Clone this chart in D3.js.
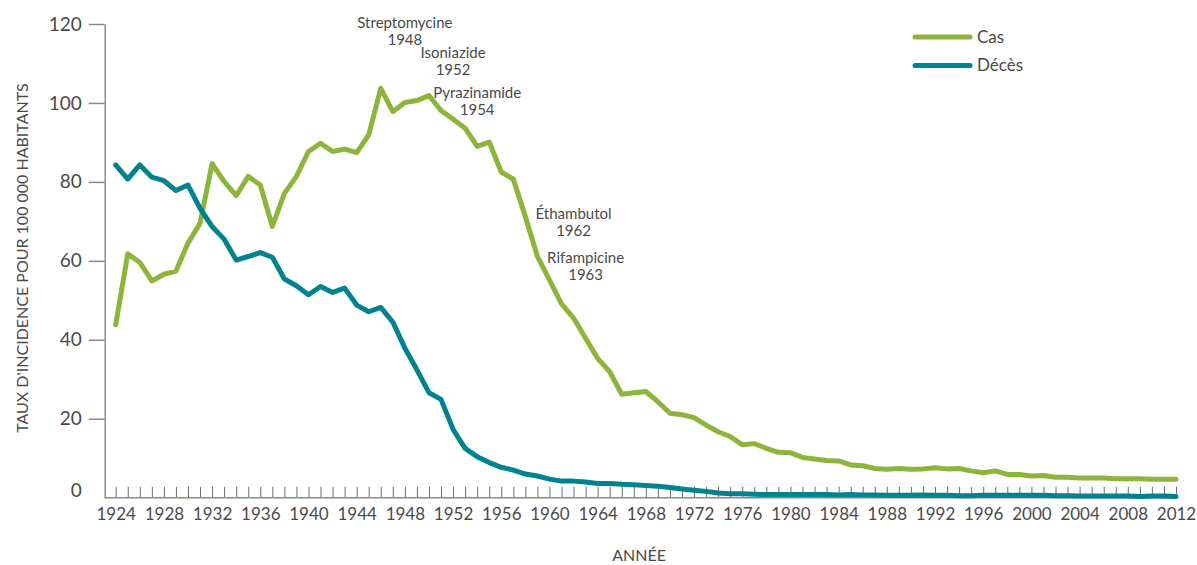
<!DOCTYPE html>
<html>
<head>
<meta charset="utf-8">
<script src="https://cdn.jsdelivr.net/npm/d3@7"></script>
<style>
  body { margin: 0; background: #fff; }
  text { font-family: Lato, "Open Sans", sans-serif; fill: #4a4a4a; }
</style>
</head>
<body>
<div id="vis"></div>
<script>
// years 1924 -> 2012
const years = d3.range(1924, 2013)

const cas = [
  43.8, 61.8, 59.6, 54.9, 56.6, 57.4, 64.5, 69.5, 84.6, 80.1,   // 1924-1933
  76.5, 81.4, 79.2, 68.7, 77.1, 81.4, 87.7, 89.8, 87.7, 88.3,   // 1934-1943
  87.4, 91.9, 103.7, 97.8, 100.1, 100.6, 101.9, 98.1, 95.9, 93.6, // 1944-1953
  89.0, 90.1, 82.5, 80.7, 71.2, 61.1, 55.2, 49.1, 45.5, 40.4,   // 1954-1963
  35.3, 31.9, 26.2, 26.6, 26.9, 24.3, 21.4, 21.0, 20.3, 18.4,   // 1964-1973
  16.7, 15.5, 13.4, 13.7, 12.5, 11.5, 11.4, 10.2, 9.8, 9.4,     // 1974-1983
  9.3, 8.3, 8.1, 7.4, 7.2, 7.4, 7.2, 7.3, 7.6, 7.3,             // 1984-1993
  7.4, 6.8, 6.3, 6.8, 5.9, 5.9, 5.5, 5.6, 5.2, 5.2,             // 1994-2003
  5.0, 5.0, 5.0, 4.8, 4.8, 4.8, 4.7, 4.7, 4.7                   // 2004-2012
]

const deces = [
  84.3, 80.7, 84.3, 81.2, 80.3, 77.8, 79.2, 73.3, 68.7, 65.5,   // 1924-1933
  60.2, 61.1, 62.1, 60.9, 55.4, 53.7, 51.4, 53.5, 52.0, 53.1,   // 1934-1943
  48.8, 47.1, 48.2, 44.5, 37.9, 32.4, 26.6, 24.9, 17.3, 12.5,   // 1944-1953
  10.4, 8.9, 7.7, 7.0, 6.0, 5.5, 4.7, 4.2, 4.2, 4.0,            // 1954-1963
  3.6, 3.6, 3.4, 3.3, 3.1, 2.9, 2.6, 2.2, 1.9, 1.6,             // 1964-1973
  1.2, 1.0, 1.0, 0.9, 0.8, 0.8, 0.8, 0.8, 0.8, 0.8,             // 1974-1983
  0.7, 0.8, 0.7, 0.7, 0.6, 0.6, 0.6, 0.7, 0.6, 0.6,             // 1984-1993
  0.5, 0.5, 0.6, 0.6, 0.6, 0.6, 0.6, 0.6, 0.5, 0.5,             // 1994-2003
  0.4, 0.4, 0.4, 0.4, 0.4, 0.3, 0.4, 0.4, 0.3                   // 2004-2012
]

const seriesNames = ['Cas', 'Décès']
const seriesColors = ['#8db53b', '#00838f']

const yTicks = [20, 40, 60, 80, 100, 120]
const xLabelYears = d3.range(1924, 2013, 4)

// drug annotations
const drugNames = ['Streptomycine', 'Isoniazide', 'Pyrazinamide', 'Éthambutol', 'Rifampicine']
const drugYears = [1948, 1952, 1954, 1962, 1963]
const drugLabelTop = [28.3, 58.3, 98, 219, 263]   // baseline of first line, px

const W = 1197, H = 565
const axisX = 104.7

const x = d3.scaleLinear().domain([1924, 2012]).range([115.7, 1176])
const y = d3.scaleLinear().domain([0, 120]).range([497.7, 24])

const svg = d3.select('#vis').append('svg')
  .attr('width', W)
  .attr('height', H)

// y axis
const yAxis = d3.axisLeft(y)
  .tickValues(yTicks)
  .tickSize(16)
  .tickPadding(7)
  .tickSizeOuter(0)

const gy = svg.append('g')
  .attr('transform', `translate(${axisX},0)`)
  .call(yAxis)
gy.select('.domain').attr('stroke', '#8a8a8a').attr('stroke-width', 1.5)
gy.selectAll('.tick line').attr('stroke', '#8a8a8a').attr('stroke-width', 1.5)
gy.selectAll('.tick text')
  .attr('font-size', 19)
  .attr('font-family', 'Lato, sans-serif')
  .attr('fill', '#4a4a4a')

// the zero label sits a little above the baseline
svg.append('text')
  .attr('x', axisX - 23)
  .attr('y', y(0) - 7)
  .attr('dy', '0.32em')
  .attr('text-anchor', 'end')
  .attr('font-size', 19)
  .text('0')

// x axis
const xAxis = d3.axisBottom(x)
  .tickValues(years)
  .tickSize(-11)
  .tickPadding(10)
  .tickSizeOuter(0)
  .tickFormat(d => xLabelYears.includes(d) ? d : '')

const gx = svg.append('g')
  .attr('transform', `translate(0,${y(0)})`)
  .call(xAxis)
gx.select('.domain').remove()
gx.selectAll('.tick line').attr('stroke', '#6e6e6e').attr('stroke-width', 1)
gx.selectAll('.tick text')
  .attr('font-size', 17)
  .attr('font-family', 'Lato, sans-serif')
  .attr('fill', '#4a4a4a')

svg.append('line')
  .attr('x1', axisX).attr('x2', x(2012) + 2)
  .attr('y1', y(0)).attr('y2', y(0))
  .attr('stroke', '#8a8a8a')
  .attr('stroke-width', 1.5)

// axis titles
svg.append('text')
  .attr('transform', `translate(28,${258}) rotate(-90)`)
  .attr('text-anchor', 'middle')
  .attr('font-size', 16)
  .text("TAUX D'INCIDENCE POUR 100 000 HABITANTS")

svg.append('text')
  .attr('x', 639)
  .attr('y', 561)
  .attr('text-anchor', 'middle')
  .attr('font-size', 16)
  .text('ANNÉE')

// lines
const line = d3.line()
  .x((d, i) => x(years[i]))
  .y(d => y(d))

const allSeries = [cas, deces]
allSeries.forEach((s, k) => {
  svg.append('path')
    .datum(s)
    .attr('d', line)
    .attr('fill', 'none')
    .attr('stroke', seriesColors[k])
    .attr('stroke-width', 5)
    .attr('stroke-linejoin', 'round')
    .attr('stroke-linecap', 'round')
})

// annotations
drugNames.forEach((name, i) => {
  const t = svg.append('text')
    .attr('text-anchor', 'middle')
    .attr('font-size', 15)
  t.append('tspan')
    .attr('x', x(drugYears[i]))
    .attr('y', drugLabelTop[i])
    .text(name)
  t.append('tspan')
    .attr('x', x(drugYears[i]))
    .attr('y', drugLabelTop[i] + 16.7)
    .text(drugYears[i])
})

// legend
const legend = svg.append('g').attr('transform', 'translate(915,37)')
seriesNames.forEach((name, i) => {
  legend.append('line')
    .attr('x1', 0).attr('x2', 55)
    .attr('y1', i * 28.5).attr('y2', i * 28.5)
    .attr('stroke', seriesColors[i])
    .attr('stroke-width', 5)
    .attr('stroke-linecap', 'round')
  legend.append('text')
    .attr('x', 62)
    .attr('y', i * 28.5)
    .attr('dy', '0.35em')
    .attr('font-size', 17)
    .text(name)
})
</script>
</body>
</html>
